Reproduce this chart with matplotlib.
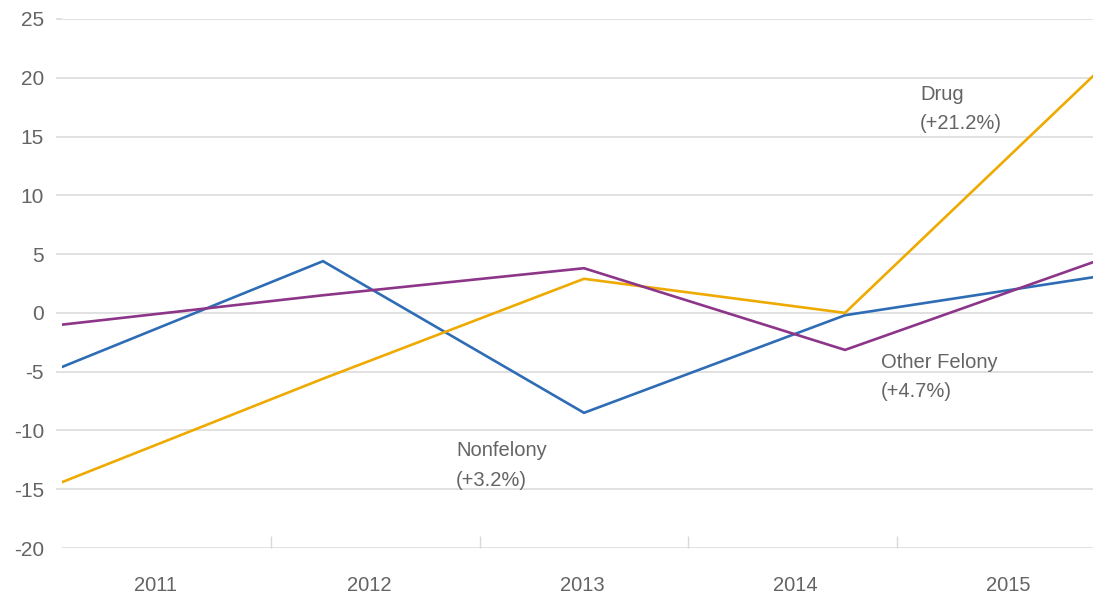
import matplotlib
matplotlib.use("Agg")
import matplotlib.pyplot as plt

years = ["2011", "2012", "2013", "2014", "2015"]
nonfelony = [-4.6, 4.4, -8.5, -0.2, 3.2]
drug = [-14.4, -5.6, 2.9, 0.0, 21.2]
other_felony = [-1.0, 1.5, 3.8, -3.15, 4.7]
yticks = [-20, -15, -10, -5, 0, 5, 10, 15, 20, 25]
labels = [("Drug", "(+21.2%)"), ("Other Felony", "(+4.7%)"), ("Nonfelony", "(+3.2%)")]

plt.rcParams["font.family"] = ["Liberation Sans", "DejaVu Sans"]

BLUE = "#2e6db5"
ORANGE = "#eeaa00"
PURPLE = "#8c3589"
GRID = "#d9d9d9"
TXT = "#646464"
FS = 14.5

fig = plt.figure(figsize=(10.93, 5.94), dpi=100)
ax = fig.add_axes([62 / 1093, 1 - 548 / 594, 1 - 62 / 1093, (548 - 19) / 594])

x = list(range(len(years)))
ax.plot(x, nonfelony, color=BLUE, lw=1.9, solid_joinstyle="miter")
ax.plot(x, drug, color=ORANGE, lw=1.9, solid_joinstyle="miter")
ax.plot(x, other_felony, color=PURPLE, lw=1.9, solid_joinstyle="miter")

ax.set_xlim(0, (1093 - 62) / 261)
ax.set_ylim(-20, 25)
ax.set_yticks(yticks)
ax.set_yticklabels([str(v) for v in yticks])
ax.yaxis.grid(True, color=GRID, lw=1.1)
ax.set_axisbelow(True)
for s in ax.spines.values():
    s.set_visible(False)
ax.tick_params(axis="y", length=4, color=GRID, width=1.1, pad=9,
               labelsize=15, labelcolor=TXT)
ax.yaxis.get_major_ticks()[0].tick1line.set_visible(False)

n = len(years)
step = 0.8
ax.set_xticks([step * (i + 1) for i in range(n - 1)])
ax.set_xticklabels([])
ax.set_xticks([0.36 + 0.816 * i for i in range(n)], minor=True)
ax.set_xticklabels(years, minor=True)
ax.tick_params(axis="x", which="major", direction="in", length=9, color=GRID, width=1)
ax.tick_params(axis="x", which="minor", length=0, pad=20, labelsize=FS, labelcolor=TXT)

pos = [(3.287, 19.4), (3.138, -3.4), (1.51, -10.9)]
for (a, b), (px, py) in zip(labels, pos):
    ax.text(px, py, a + "\n" + b, color=TXT, fontsize=FS, va="top",
            ha="left", linespacing=1.7, transform=ax.transData)

fig.savefig("out.png", dpi=100, facecolor="white")
